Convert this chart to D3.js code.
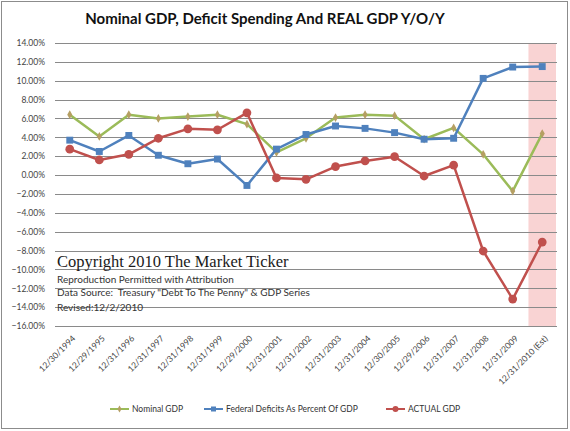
<!DOCTYPE html>
<html>
<head>
<meta charset="utf-8">
<script src="https://cdnjs.cloudflare.com/ajax/libs/d3/7.8.5/d3.min.js"></script>
<style>
  body { margin: 0; background: #fff; }
</style>
</head>
<body>
<div id="chart-area"></div>
<script>
// Data
const years = ["12/30/1994", "12/29/1995", "12/31/1996", "12/31/1997", "12/31/1998",
  "12/31/1999", "12/29/2000", "12/31/2001", "12/31/2002", "12/31/2003", "12/31/2004",
  "12/30/2005", "12/29/2006", "12/31/2007", "12/31/2008", "12/31/2009", "12/31/2010 (Est)"]
const nominalGdp = [6.4, 4.1, 6.4, 6.0, 6.2, 6.4, 5.4, 2.4, 3.9, 6.1, 6.4, 6.3, 3.8, 5.0, 2.2, -1.7, 4.4]
const deficitPct = [3.7, 2.5, 4.2, 2.1, 1.2, 1.7, -1.1, 2.75, 4.3, 5.2, 4.95, 4.5, 3.8, 3.9, 10.25, 11.45, 11.5]
const actualGdp = [2.75, 1.6, 2.2, 3.9, 4.9, 4.8, 6.6, -0.3, -0.45, 0.9, 1.5, 1.95, -0.1, 1.05, -8.05, -13.15, -7.1]
const yTicks = [14, 12, 10, 8, 6, 4, 2, 0, -2, -4, -6, -8, -10, -12, -14, -16]

const series = [
  { name: "Nominal GDP", values: nominalGdp, color: "#9bbb59", marker: "diamond" },
  { name: "Federal Deficits As Percent Of GDP", values: deficitPct, color: "#4f81bd", marker: "square" },
  { name: "ACTUAL GDP", values: actualGdp, color: "#c0504d", marker: "circle" }
]

const SANS = "Lato, 'Open Sans', sans-serif"
const W = 570, H = 431
const MARGIN = { LEFT: 55, RIGHT: 12, TOP: 43, BOTTOM: 105 }

const svg = d3.select("#chart-area").append("svg")
  .attr("width", W)
  .attr("height", H)
  .style("font-family", SANS)

// outer frame
svg.append("rect")
  .attr("x", 1.5).attr("y", 1.5)
  .attr("width", W - 4).attr("height", H - 4)
  .attr("fill", "#fff")
  .attr("stroke", "#8c8c8c")

// Scales
const x = d3.scaleBand()
  .domain(years)
  .range([MARGIN.LEFT, W - MARGIN.RIGHT - 1])
const y = d3.scaleLinear()
  .domain([-16, 14])
  .range([H - MARGIN.BOTTOM, MARGIN.TOP])
const cx = d => x(d) + x.bandwidth() / 2

// estimate band
const est = years[years.length - 1]
svg.append("rect")
  .attr("x", x(est) + 1)
  .attr("y", y(14))
  .attr("width", x.bandwidth() - 2)
  .attr("height", y(-16) - y(14))
  .attr("fill", "#f9d3d3")

// Gridlines
svg.append("g")
  .selectAll("line")
  .data(yTicks)
  .join("line")
    .attr("x1", MARGIN.LEFT)
    .attr("x2", W - MARGIN.RIGHT - 1)
    .attr("y1", d => Math.round(y(d)) + 0.5)
    .attr("y2", d => Math.round(y(d)) + 0.5)
    .attr("stroke", "#8a8a8a")
    .attr("stroke-width", 1)

// Y Axis
const yAxisCall = d3.axisLeft(y)
  .tickValues(yTicks)
  .tickSize(0)
  .tickPadding(10)
  .tickFormat(d => d3.format(".2f")(d) + "%")
const yAxis = svg.append("g")
  .attr("transform", `translate(${MARGIN.LEFT}, 0)`)
  .call(yAxisCall)
yAxis.select(".domain").remove()
yAxis.selectAll("text")
  .attr("font-size", "8.5px")
  .attr("fill", "#444")
  .attr("font-family", SANS)

// X Axis
const xAxisCall = d3.axisBottom(x).tickSize(0).tickPadding(0)
const xAxis = svg.append("g")
  .attr("transform", `translate(0, ${y(-16)})`)
  .call(xAxisCall)
xAxis.select(".domain").remove()
xAxis.selectAll("text")
  .attr("font-size", "8.5px")
  .attr("fill", "#444")
  .attr("font-family", SANS)
  .attr("text-anchor", "end")
  .attr("dy", "0.35em")
  .attr("transform", "translate(4, 11) rotate(-45)")

// Title
svg.append("text")
  .attr("x", 265)
  .attr("y", 24)
  .attr("text-anchor", "middle")
  .attr("font-size", "15px")
  .attr("font-weight", "bold")
  .attr("fill", "#111")
  .text("Nominal GDP, Deficit Spending And REAL GDP Y/O/Y")

// Lines and markers
const line = d3.line()
  .x((d, i) => cx(years[i]))
  .y(d => y(d))

const symbolFor = {
  diamond: size => d3.symbol().type(d3.symbolDiamond).size(size || 22),
  square: size => d3.symbol().type(d3.symbolSquare).size(size || 48),
  circle: size => d3.symbol().type(d3.symbolCircle).size(size || 60)
}
const legendSize = { diamond: 14, square: 25, circle: 28 }
const markerColor = { diamond: "#b59f63", square: "#4f81bd", circle: "#c0504d" }

series.forEach(s => {
  const g = svg.append("g")
  g.append("path")
    .datum(s.values)
    .attr("fill", "none")
    .attr("stroke", s.color)
    .attr("stroke-width", 2.5)
    .attr("stroke-linejoin", "round")
    .attr("d", line)
  g.selectAll("path.pt")
    .data(s.values)
    .join("path")
      .attr("class", "pt")
      .attr("transform", (d, i) => `translate(${cx(years[i])}, ${y(d)})`)
      .attr("d", symbolFor[s.marker]()())
      .attr("fill", markerColor[s.marker])
})

// Copyright block
const notes = svg.append("g")
notes.append("text")
  .attr("x", 57).attr("y", 267)
  .style("font-family", "'Liberation Serif', 'DejaVu Serif', serif")
  .attr("font-size", "16.5px")
  .attr("fill", "#1a1a1a")
  .text("Copyright 2010 The Market Ticker")
const small = [
  { t: "Reproduction Permitted with Attribution", y: 283 },
  { t: "Data Source:  Treasury \"Debt To The Penny\" & GDP Series", y: 296 },
  { t: "Revised:12/2/2010", y: 311 }
]
small.forEach(s => {
  notes.append("text")
    .attr("x", 57).attr("y", s.y)
    .attr("font-size", "10px")
    .attr("fill", "#333")
    .style("white-space", "pre")
    .text(s.t)
})

// Legend
const legendPos = [110, 204, 386]
const legend = svg.append("g")
  .attr("transform", "translate(0, 409)")
series.forEach((s, i) => {
  const row = legend.append("g")
    .attr("transform", `translate(${legendPos[i]}, 0)`)
  row.append("line")
    .attr("x1", 0).attr("x2", 19)
    .attr("stroke", s.color)
    .attr("stroke-width", 2)
  row.append("path")
    .attr("transform", "translate(9.5, 0)")
    .attr("d", symbolFor[s.marker](legendSize[s.marker])())
    .attr("fill", markerColor[s.marker])
  row.append("text")
    .attr("x", 22)
    .attr("y", 3)
    .attr("font-size", "8.5px")
    .attr("fill", "#333")
    .text(s.name)
})
</script>
</body>
</html>
